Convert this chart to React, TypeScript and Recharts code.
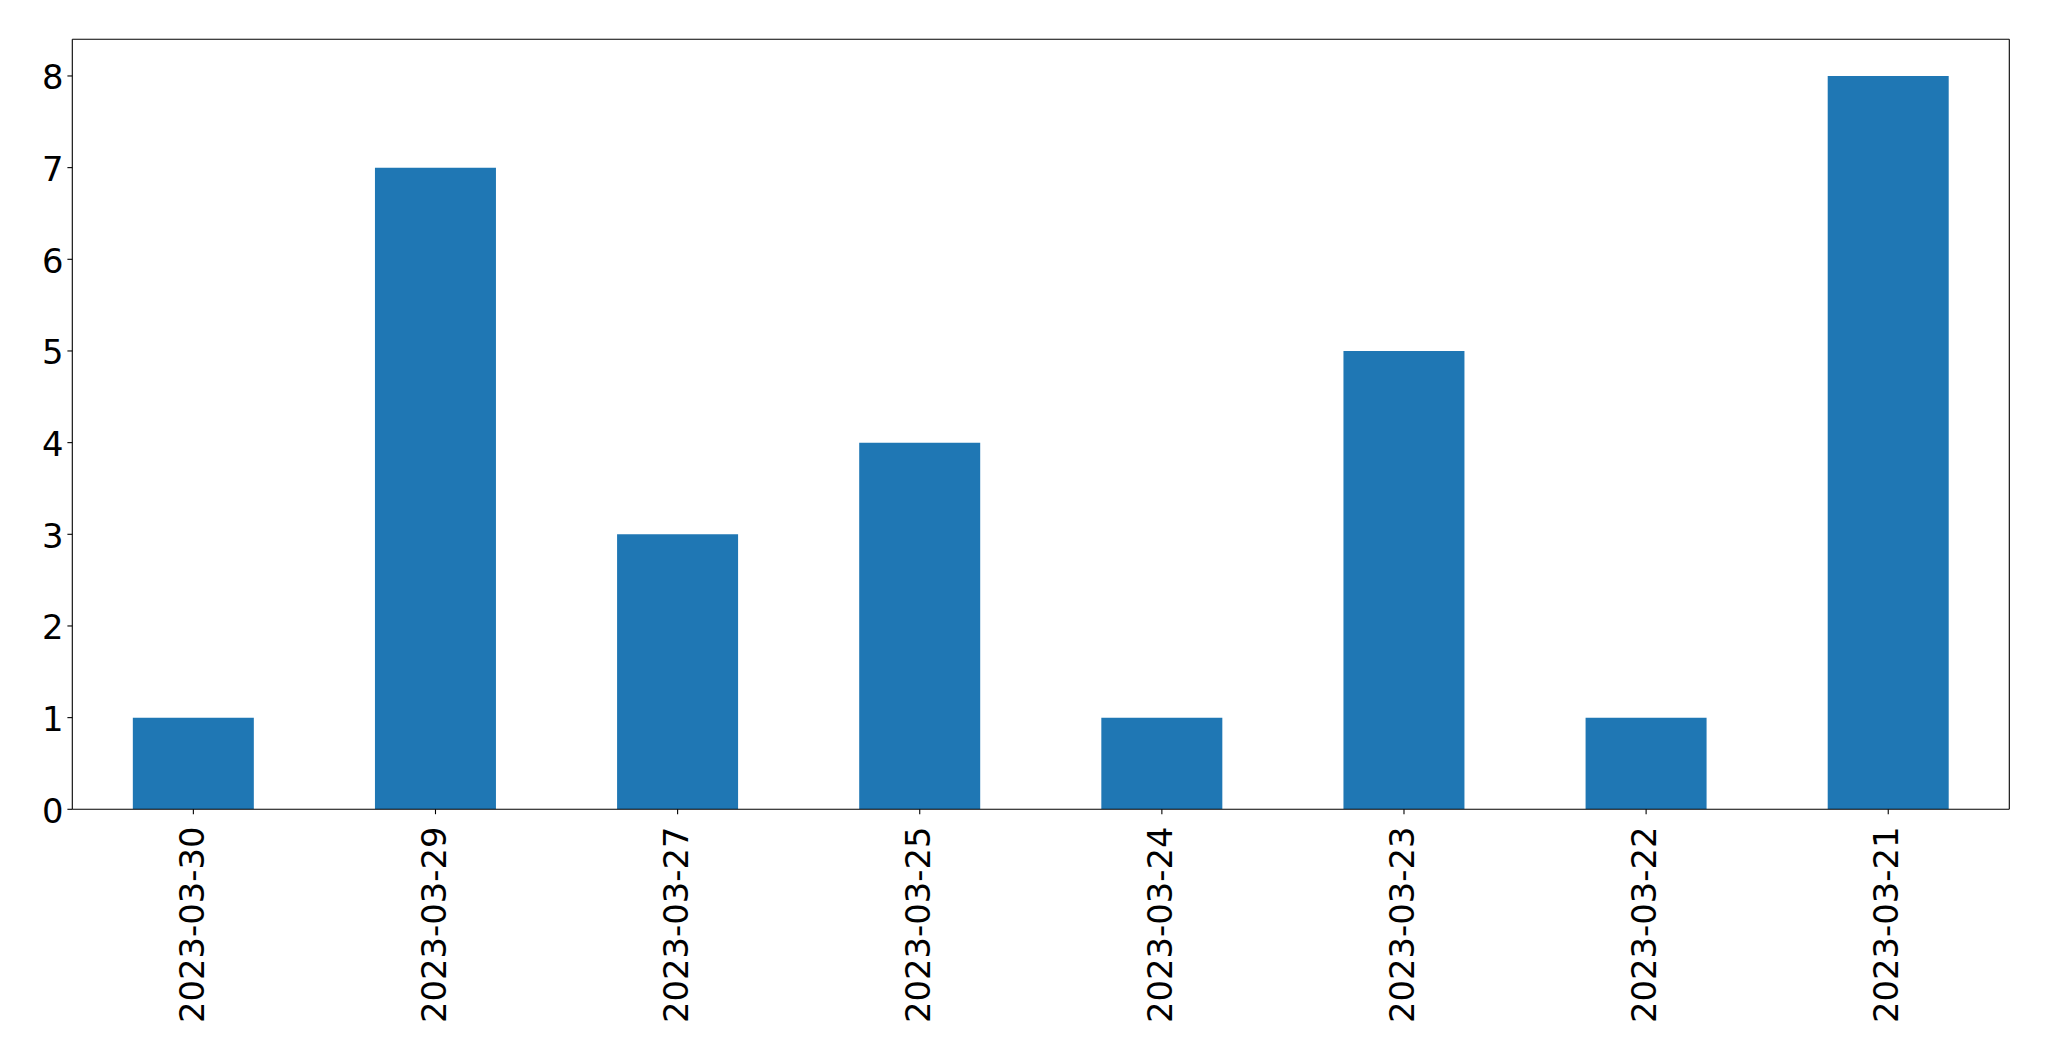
import React from "react";
import { BarChart, Bar, XAxis, YAxis } from "recharts";

const categories = [
  "2023-03-30",
  "2023-03-29",
  "2023-03-27",
  "2023-03-25",
  "2023-03-24",
  "2023-03-23",
  "2023-03-22",
  "2023-03-21",
];
const counts = [1, 7, 3, 4, 1, 5, 1, 8];
const yTicks = [0, 1, 2, 3, 4, 5, 6, 7, 8];

const data = categories.map((c, i) => ({ date: c, count: counts[i] }));

const FONT = "'DejaVu Sans', sans-serif";
const FS = 33.8;

const XTick = (props: any) => {
  const { x, y, payload } = props;
  return (
    <text
      transform={`translate(${x}, ${y}) rotate(-90)`}
      x={0}
      y={0}
      dy={10.2}
      textAnchor="end"
      fontFamily={FONT}
      fontSize={FS}
      fill="#000"
    >
      {payload.value}
    </text>
  );
};

const YTick = (props: any) => {
  const { x, y, payload } = props;
  return (
    <text
      x={x}
      y={y}
      dy={13.5}
      textAnchor="end"
      fontFamily={FONT}
      fontSize={FS}
      fill="#000"
    >
      {payload.value}
    </text>
  );
};

export default function App() {
  return (
    <div style={{ position: "absolute", left: 0, top: 0, width: 2049, height: 1061, background: "#fff" }}>
      <BarChart
        width={2049}
        height={1061}
        data={data}
        margin={{ top: 38.3, right: 38.7, left: 0, bottom: 0 }}
        barCategoryGap="25%"
      >
        <XAxis
          dataKey="date"
          height={251.7}
          interval={0}
          tick={<XTick />}
          tickSize={4.9}
          tickMargin={12.3}
          axisLine={{ stroke: "#000", strokeWidth: 1.1 }}
          tickLine={{ stroke: "#000", strokeWidth: 1.1 }}
        />
        <XAxis
          xAxisId="top"
          dataKey="date"
          orientation="top"
          height={1}
          interval={0}
          tick={false}
          tickLine={false}
          axisLine={{ stroke: "#000", strokeWidth: 1.1 }}
        />
        <YAxis
          width={72.3}
          domain={[0, 8.4]}
          ticks={yTicks}
          allowDataOverflow
          tick={<YTick />}
          tickSize={4.9}
          tickMargin={4}
          axisLine={{ stroke: "#000", strokeWidth: 1.1 }}
          tickLine={{ stroke: "#000", strokeWidth: 1.1 }}
        />
        <YAxis
          yAxisId="right"
          orientation="right"
          width={1}
          domain={[0, 8.4]}
          tick={false}
          tickLine={false}
          axisLine={{ stroke: "#000", strokeWidth: 1.1 }}
        />
        <Bar dataKey="count" fill="#1f77b4" isAnimationActive={false} />
      </BarChart>
    </div>
  );
}
